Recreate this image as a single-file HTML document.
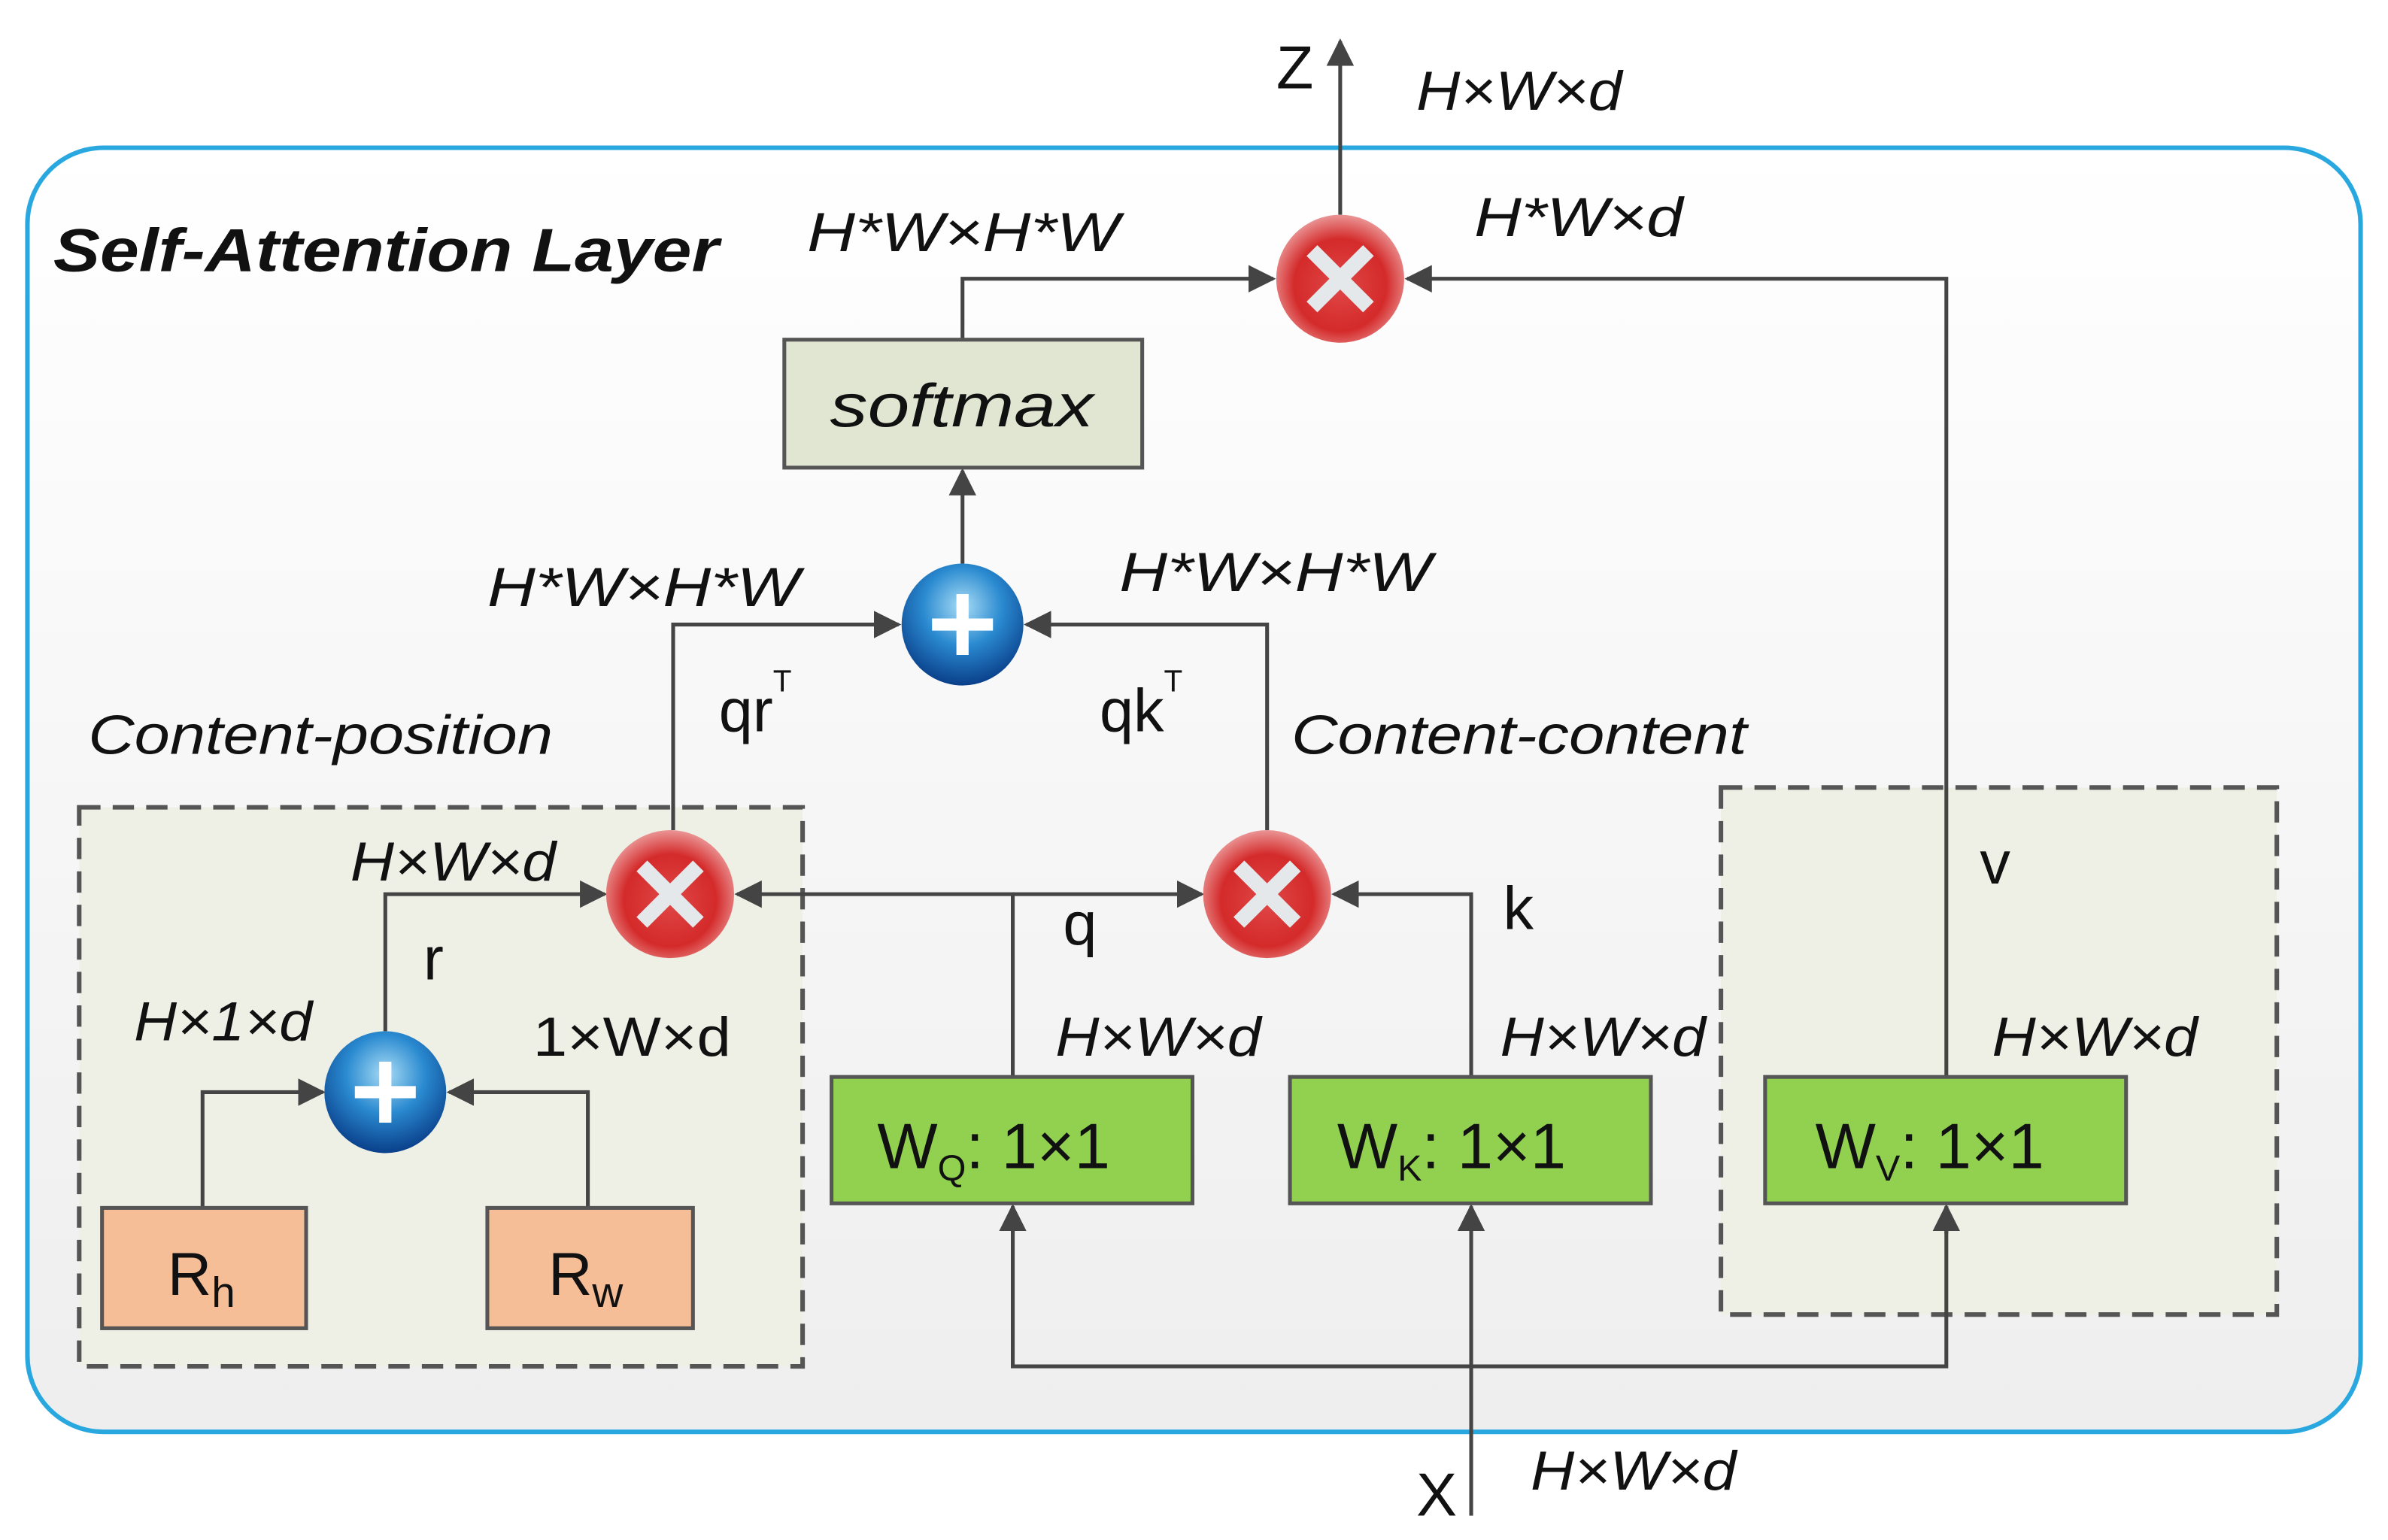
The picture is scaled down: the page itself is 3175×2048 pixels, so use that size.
<!DOCTYPE html>
<html><head><meta charset="utf-8"><style>
html,body{margin:0;padding:0;background:#fff;}
svg{display:block;}
text{font-family:"Liberation Sans",sans-serif;fill:#111;}
.it{font-style:italic;}
</style></head><body>
<svg width="3175" height="2048" viewBox="0 0 1568 1011" preserveAspectRatio="none" xmlns="http://www.w3.org/2000/svg">
<defs>
<linearGradient id="bg" x1="0" y1="0" x2="0" y2="1"><stop offset="0" stop-color="#ffffff"/><stop offset="1" stop-color="#eeeeee"/></linearGradient>
<radialGradient id="red" cx="0.5" cy="0.55" r="0.6"><stop offset="0" stop-color="#e04848"/><stop offset="0.6" stop-color="#d42a2a"/><stop offset="1" stop-color="#f0b0b0"/></radialGradient>
<radialGradient id="blue" cx="0.5" cy="0.35" r="0.65"><stop offset="0" stop-color="#a8dcf5"/><stop offset="0.5" stop-color="#2a8ad0"/><stop offset="1" stop-color="#0a3f8a"/></radialGradient>
<marker id="b" viewBox="0 0 10 10" refX="9" refY="5" markerWidth="18" markerHeight="18" markerUnits="userSpaceOnUse" orient="auto"><path d="M0,0 L10,5 L0,10 z" fill="#444"/></marker>
<g id="mul"><circle r="42" fill="url(#red)"/><path d="M-15,-15 L15,15 M15,-15 L-15,15" stroke="#e4e8ea" stroke-width="10" stroke-linecap="square"/></g>
<g id="add"><circle r="40" fill="url(#blue)"/><path d="M-20,0 L20,0 M0,-20 L0,20" stroke="#fff" stroke-width="8"/></g>
</defs>
<rect x="18" y="97" width="1532" height="843" rx="50" fill="url(#bg)" stroke="#29a8e0" stroke-width="3"/>
<rect x="52" y="530" width="475" height="367" fill="#eef0e6" stroke="#555" stroke-width="3" stroke-dasharray="14,8"/>
<rect x="1130" y="517" width="365" height="346" fill="#eef0e6" stroke="#555" stroke-width="3" stroke-dasharray="14,8"/>
<text x="35" y="178" font-size="40" font-weight="bold" class="it" textLength="437" lengthAdjust="spacingAndGlyphs">Self-Attention Layer</text>
<g stroke="#444" stroke-width="2.5" fill="none">
<path d="M880,141 L880,27" marker-end="url(#b)"/>
<path d="M632,223 L632,183 L836,183" marker-end="url(#b)"/>
<path d="M1278,707 L1278,183 L924,183" marker-end="url(#b)"/>
<path d="M632,370 L632,309" marker-end="url(#b)"/>
<path d="M442,545 L442,410 L590,410" marker-end="url(#b)"/>
<path d="M832,545 L832,410 L674,410" marker-end="url(#b)"/>
<path d="M665,707 L665,587 L484,587" marker-end="url(#b)"/>
<path d="M665,587 L789,587" marker-end="url(#b)"/>
<path d="M966,707 L966,587 L876,587" marker-end="url(#b)"/>
<path d="M253,677 L253,587 L397,587" marker-end="url(#b)"/>
<path d="M133,793 L133,717 L212,717" marker-end="url(#b)"/>
<path d="M386,793 L386,717 L295,717" marker-end="url(#b)"/>
<path d="M966,995 L966,792" marker-end="url(#b)"/>
<path d="M1278,792 L1278,897 L665,897 L665,792"/>
<path d="M665,810 L665,792" marker-end="url(#b)"/>
<path d="M1278,810 L1278,792" marker-end="url(#b)"/>
</g>
<use href="#mul" x="880" y="183"/>
<use href="#mul" x="440" y="587"/>
<use href="#mul" x="832" y="587"/>
<use href="#add" x="632" y="410"/>
<use href="#add" x="253" y="717"/>
<rect x="515" y="223" width="235" height="84" fill="#e0e6d2" stroke="#555" stroke-width="2.5"/>
<text x="545" y="280" font-size="40" class="it" textLength="173" lengthAdjust="spacingAndGlyphs">softmax</text>
<rect x="67" y="793" width="134" height="79" fill="#f5be96" stroke="#555" stroke-width="2.5"/>
<rect x="320" y="793" width="135" height="79" fill="#f5be96" stroke="#555" stroke-width="2.5"/>
<text x="110" y="850" font-size="40">R<tspan font-size="28" dy="8">h</tspan></text>
<text x="360" y="850" font-size="40">R<tspan font-size="28" dy="8">w</tspan></text>
<g fill="#92d050" stroke="#555" stroke-width="2.5">
<rect x="546" y="707" width="237" height="83"/>
<rect x="847" y="707" width="237" height="83"/>
<rect x="1159" y="707" width="237" height="83"/>
</g>
<text x="576" y="767" font-size="42">W<tspan font-size="24" dy="8">Q</tspan><tspan dy="-8">: 1×1</tspan></text>
<text x="878" y="767" font-size="42">W<tspan font-size="24" dy="8">K</tspan><tspan dy="-8">: 1×1</tspan></text>
<text x="1192" y="767" font-size="42">W<tspan font-size="24" dy="8">V</tspan><tspan dy="-8">: 1×1</tspan></text>
<g font-size="36" class="it" lengthAdjust="spacingAndGlyphs">
<text x="930" y="72" textLength="135" lengthAdjust="spacingAndGlyphs">H×W×d</text>
<text x="968" y="155" textLength="137" lengthAdjust="spacingAndGlyphs">H*W×d</text>
<text x="530" y="165" textLength="205" lengthAdjust="spacingAndGlyphs">H*W×H*W</text>
<text x="320" y="398" textLength="205" lengthAdjust="spacingAndGlyphs">H*W×H*W</text>
<text x="735" y="388" textLength="205" lengthAdjust="spacingAndGlyphs">H*W×H*W</text>
<text x="58" y="495" textLength="305" lengthAdjust="spacingAndGlyphs">Content-position</text>
<text x="848" y="495" textLength="299" lengthAdjust="spacingAndGlyphs">Content-content</text>
<text x="230" y="578" textLength="135" lengthAdjust="spacingAndGlyphs">H×W×d</text>
<text x="88" y="683" textLength="117" lengthAdjust="spacingAndGlyphs">H×1×d</text>
<text x="693" y="693" textLength="135" lengthAdjust="spacingAndGlyphs">H×W×d</text>
<text x="985" y="693" textLength="135" lengthAdjust="spacingAndGlyphs">H×W×d</text>
<text x="1308" y="693" textLength="135" lengthAdjust="spacingAndGlyphs">H×W×d</text>
<text x="1005" y="978" textLength="135" lengthAdjust="spacingAndGlyphs">H×W×d</text>
</g>
<text x="350" y="693" font-size="36" textLength="130" lengthAdjust="spacingAndGlyphs">1×W×d</text>
<g font-size="40">
<text x="838" y="58">Z</text>
<text x="930" y="995">X</text>
<text x="472" y="480">qr<tspan font-size="20" dy="-26">T</tspan></text>
<text x="722" y="480">qk<tspan font-size="20" dy="-26">T</tspan></text>
<text x="698" y="620">q</text>
<text x="987" y="610">k</text>
<text x="1300" y="580">v</text>
<text x="278" y="643">r</text>
</g>
</svg>
</body></html>
